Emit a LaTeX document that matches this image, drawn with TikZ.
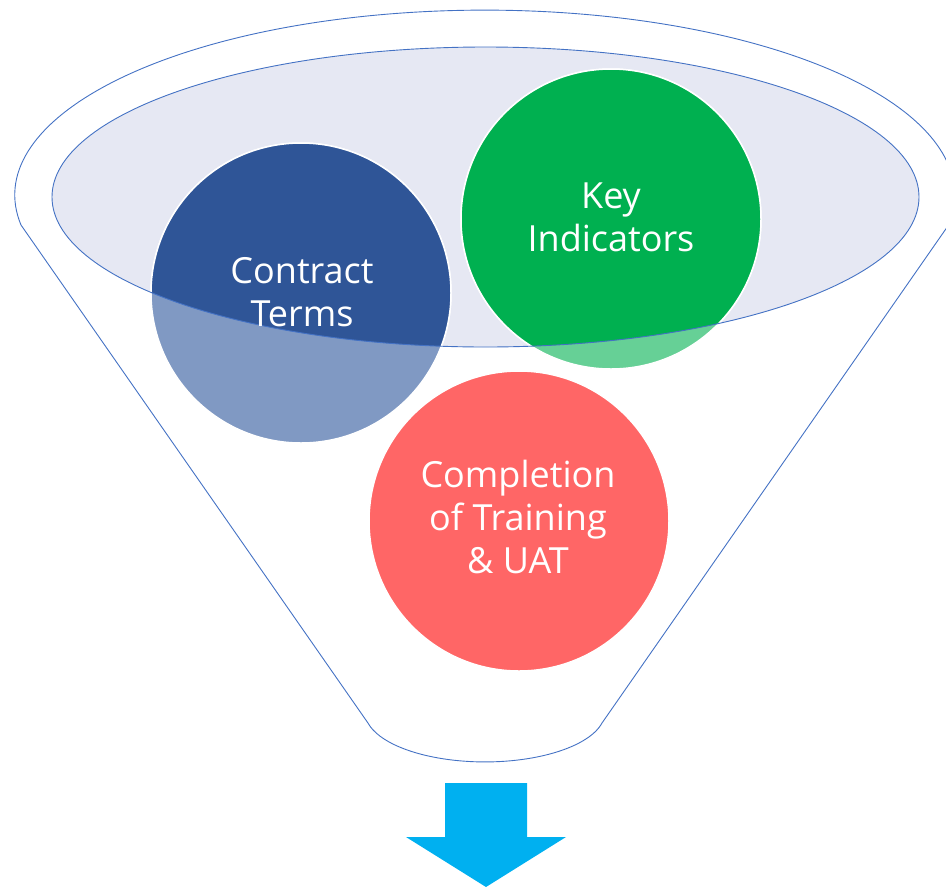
\documentclass[tikz,border=0pt]{standalone}
\usepackage{fontspec}
\setmainfont{Open Sans}[Ligatures=NoCommon]
\definecolor{rim}{HTML}{4472C4}
\definecolor{lav}{HTML}{E6E8F3}
\definecolor{cblue}{HTML}{2F5597}
\definecolor{cbluel}{HTML}{8099C3}
\definecolor{cgreen}{HTML}{00B050}
\definecolor{cgreenl}{HTML}{66D096}
\definecolor{cred}{HTML}{FF6666}
\definecolor{arrowc}{HTML}{00B0F0}
\tikzset{
  rimline/.style={draw=rim, line width=0.9pt},
  bubble/.style={draw=white, line width=1.5pt},
  bubtext/.style={text=white, align=center, font=\fontsize{36}{43}\selectfont, inner sep=0pt},
}
\begin{document}
\begin{tikzpicture}[x=1pt,y=-1pt]
\useasboundingbox (0,0) rectangle (946,887);
% funnel outline
\draw[rimline] (21,225) arc[start angle=170.7, end angle=369.3, x radius=470, y radius=185]
  -- (602,723) arc[start angle=12.8, end angle=167.2, x radius=120, y radius=50] -- cycle;
% inner ellipse fill
\fill[lav] (485.5,197) ellipse[x radius=433.5, y radius=150];
% circles (light parts)
\fill[cbluel, bubble] (301,293) circle[radius=150];
\fill[cgreenl, bubble] (611,219) circle[radius=150];
\fill[cred, bubble] (519,521) circle[radius=150];
% darker parts inside the ellipse
\begin{scope}
  \clip (485.5,197) ellipse[x radius=433.5, y radius=150];
  \fill[cblue, bubble] (301,293) circle[radius=150];
  \fill[cgreen, bubble] (611,219) circle[radius=150];
\end{scope}
% ellipse outline on top
\draw[rimline] (485.5,197) ellipse[x radius=433.5, y radius=150];
% labels
\node[bubtext] (ct) at (302,292) {Contract\\Terms};
\node[bubtext] (ki) at (611,217) {Key\\Indicators};
\node[bubtext] (cu) at (518,517) {Completion\\of Training\\\&{} UAT};
% arrow
\fill[arrowc] (445,783) -- (527,783) -- (527,837) -- (566,837) -- (486,887) -- (406,837) -- (445,837) -- cycle;
\end{tikzpicture}
\end{document}
